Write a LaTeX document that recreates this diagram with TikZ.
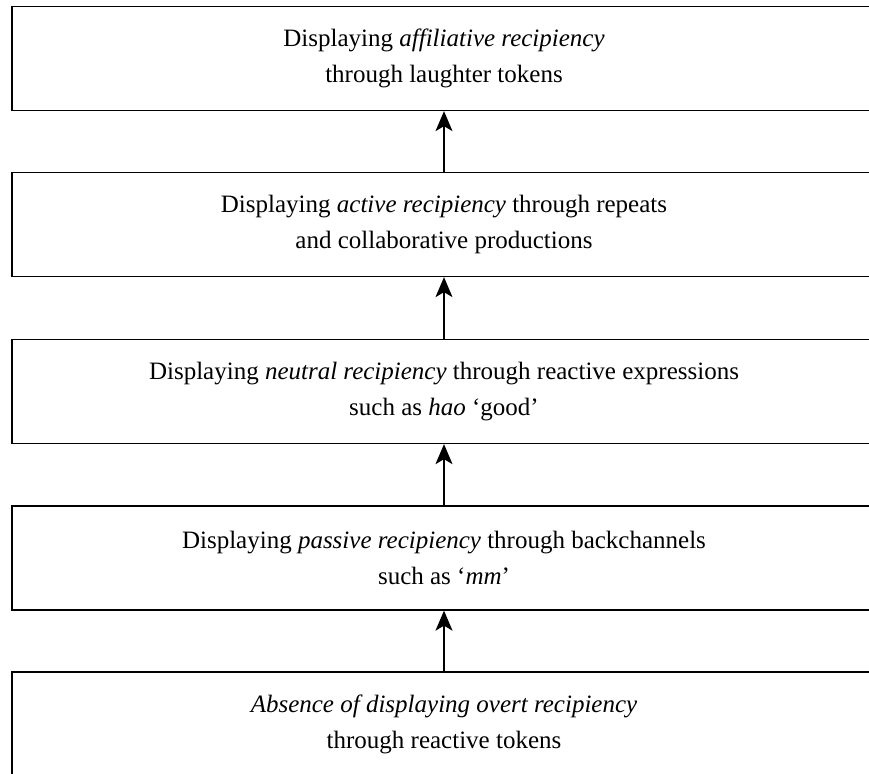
\documentclass[tikz,border=0pt]{standalone}
\usepackage{fontspec}
\setmainfont{Liberation Serif}
\usetikzlibrary{arrows.meta}
\begin{document}
\begin{tikzpicture}[x=1pt,y=1pt,
  level/.style={draw, line width=1.3pt, minimum width=864pt, minimum height=104pt,
    inner sep=0pt, align=center, font=\fontsize{25}{36}\selectfont},
  uparrow/.style={line width=1.3pt, -{Stealth[length=20pt,width=17pt,inset=5pt]}}]
  \useasboundingbox (0,0) rectangle (869,-773);
  \clip (0,0) rectangle (869,-773);
  \node[level] (l5) at (444,-58.5)  {Displaying \textit{affiliative recipiency}\\through laughter tokens};
  \node[level] (l4) at (444,-224.5) {Displaying \textit{active recipiency} through repeats\\and collaborative productions};
  \node[level] (l3) at (444,-391.5) {Displaying \textit{neutral recipiency} through reactive expressions\\such as \textit{hao} ‘good’};
  \node[level] (l2) at (444,-558)   {Displaying \textit{passive recipiency} through backchannels\\such as ‘\textit{mm}’};
  \node[level] (l1) at (444,-724)   {\textit{Absence of displaying overt recipiency}\\through reactive tokens};
  \draw[uparrow] (l4.north) -- (l5.south);
  \draw[uparrow] (l3.north) -- (l4.south);
  \draw[uparrow] (l2.north) -- (l3.south);
  \draw[uparrow] (l1.north) -- (l2.south);
\end{tikzpicture}
\end{document}
